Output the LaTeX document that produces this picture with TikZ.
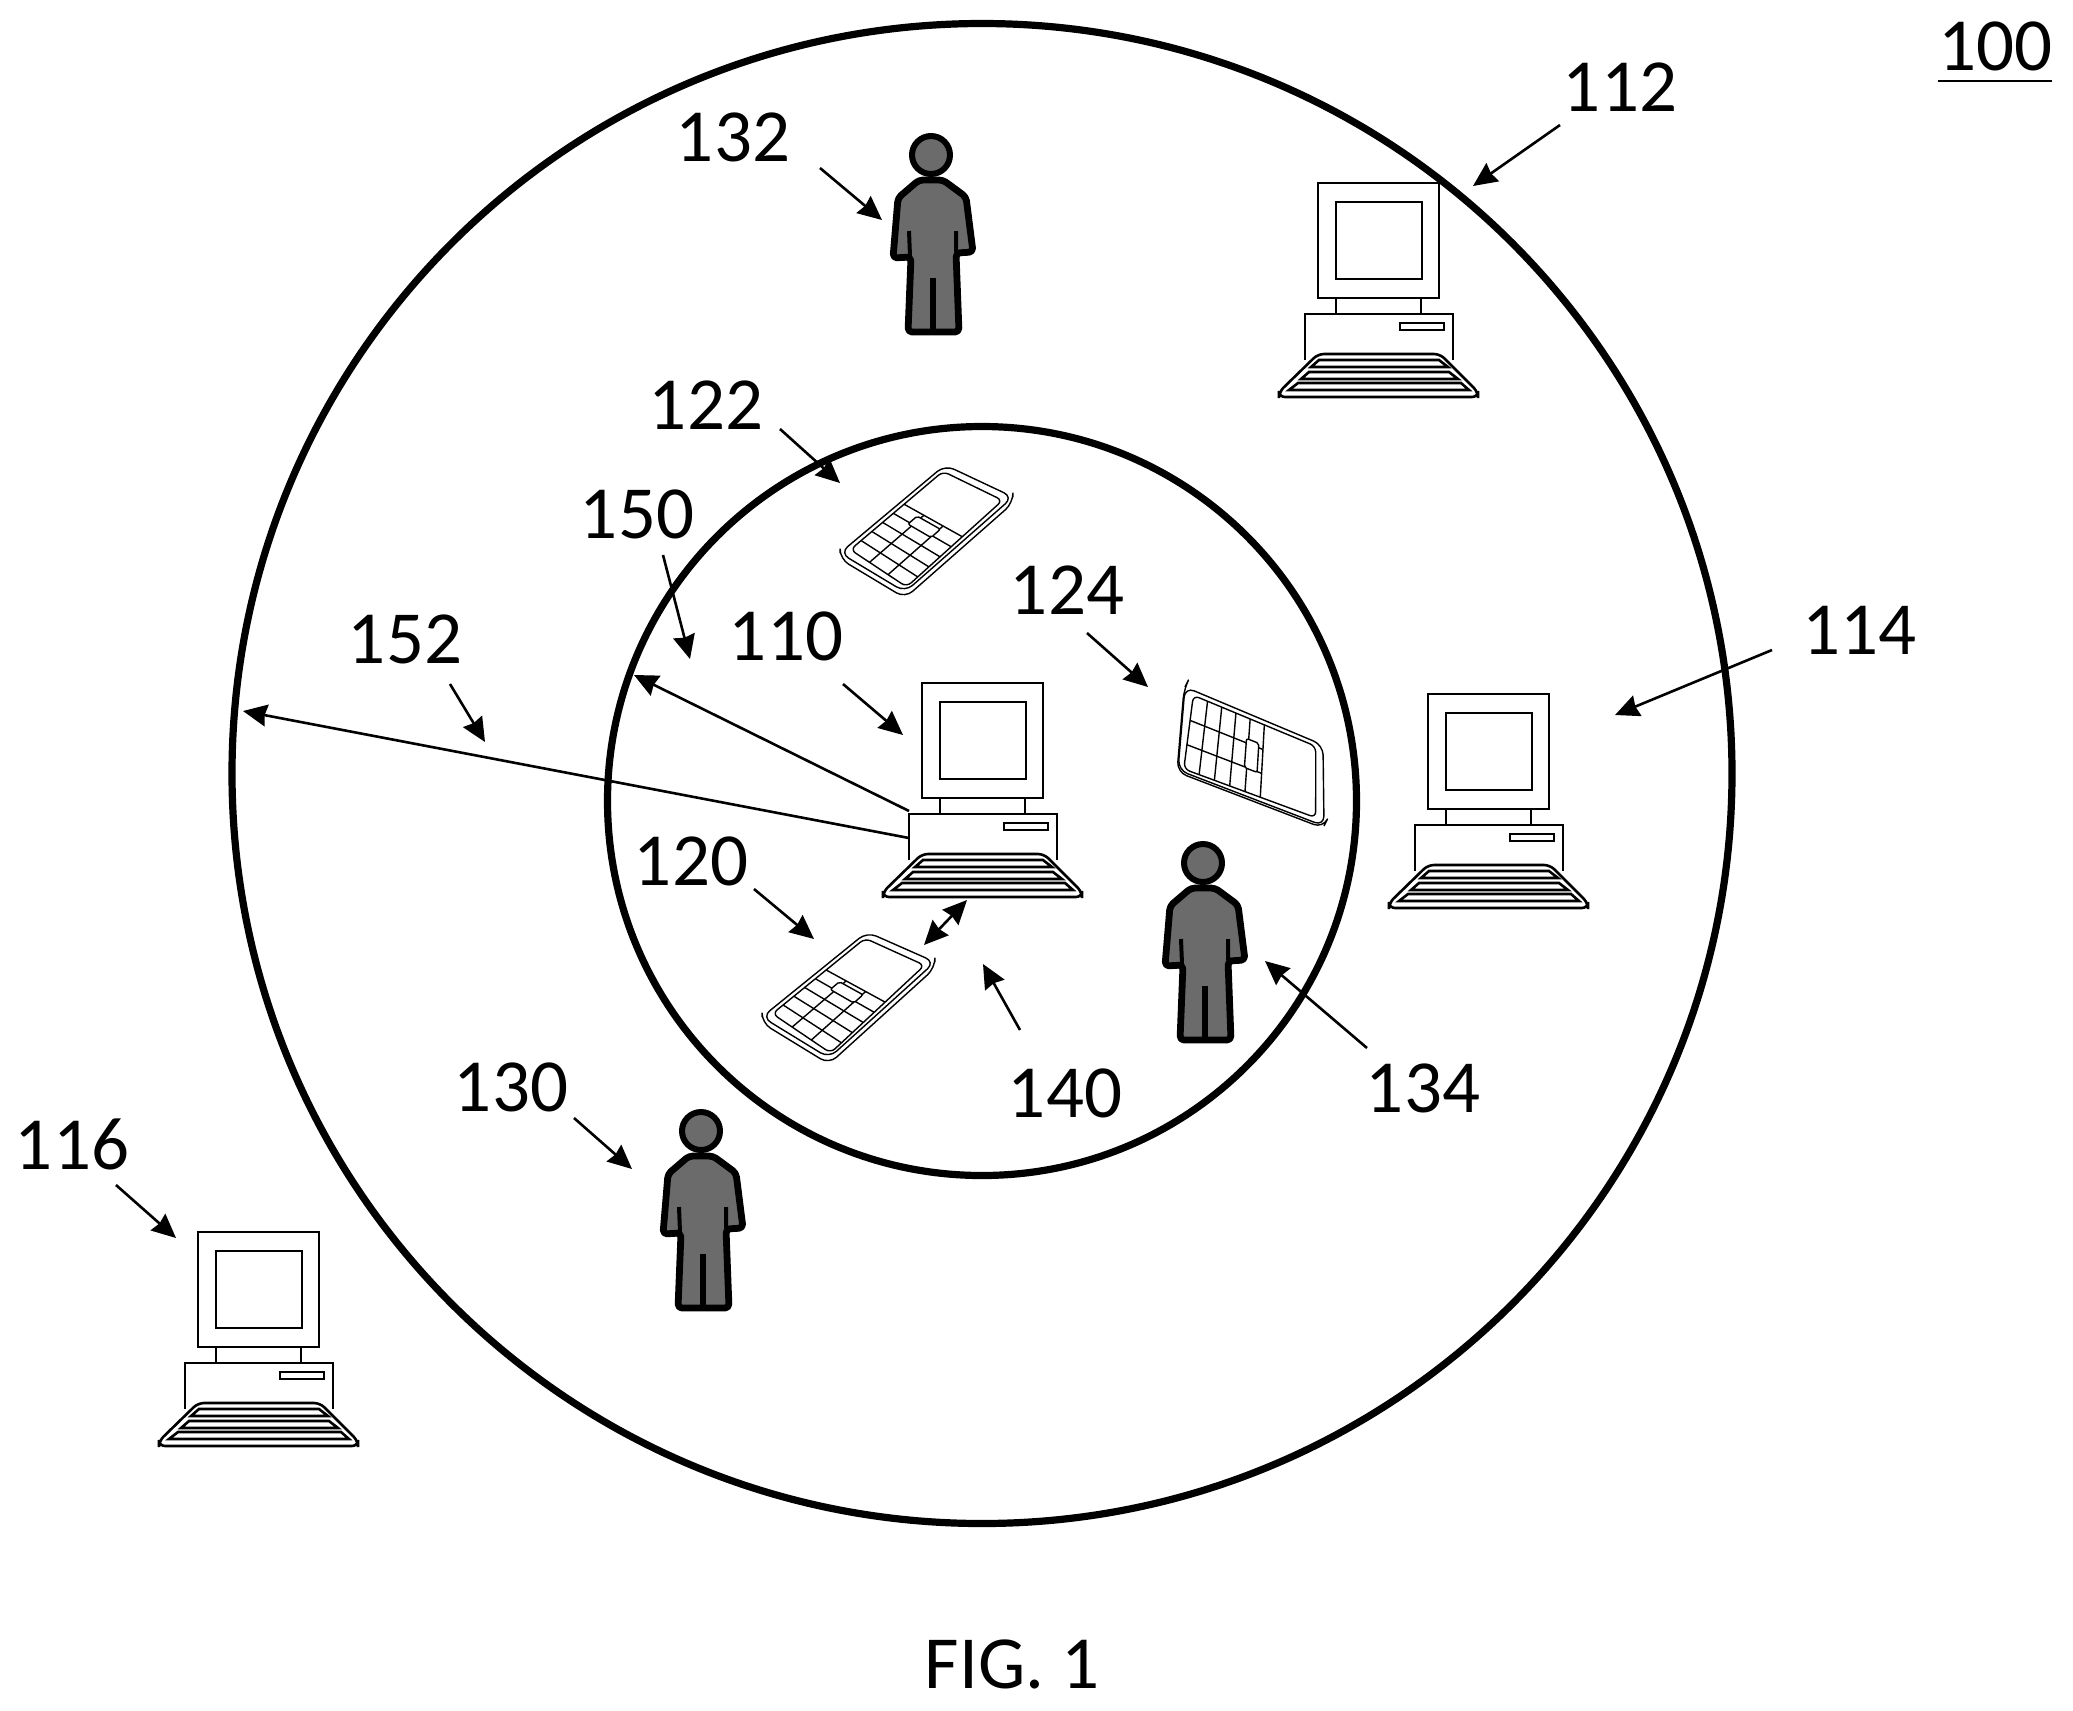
\documentclass[tikz,border=0pt]{standalone}
\usepackage{fontspec}
\setmainfont{Carlito}
\usetikzlibrary{calc,arrows.meta}

% face corners left, top, right, bottom, then the drop of the lower edge
\newcommand{\phonepic}[5]{
    \coordinate (L) at #1;
    \coordinate (T) at #2;
    \coordinate (R) at #3;
    \coordinate (B) at #4;
    \coordinate (iL) at ($(L)!.06!(R)$);
    \coordinate (iT) at ($(T)!.05!(B)$);
    \coordinate (iR) at ($(R)!.06!(L)$);
    \coordinate (iB) at ($(B)!.04!(T)$);
    \coordinate (sL) at ($(iL)!.58!(iT)$);
    \coordinate (sB) at ($(iB)!.58!(iR)$);
    \draw[phone,rounded corners=5pt] (L) -- (T) -- (R) -- (B) -- cycle;
    \draw[phone,rounded corners=5pt] (L) -- ($(L)+#5$) -- ($(B)+#5$) -- ($(R)+#5$) -- (R);
    \draw[phone,rounded corners=3pt] (iL) -- (iT) -- (iR) -- (iB) -- cycle;
    \draw[phone] (sL) -- (sB);
    \foreach \u in {.2,.4,.6,.8}
        \draw[phone] ($(iL)!\u!(sL)$) -- ($(iB)!\u!(sB)$);
    \foreach \v in {.34,.67}
        \draw[phone] ($(iL)!\v!(iB)$) -- ($(sL)!\v!(sB)$);
    \draw[phone,fill=white,rounded corners=1pt]
        ($($(iL)!.77!(sL)$)!.28!($(iB)!.77!(sB)$)$) -- ($($(iL)!.94!(sL)$)!.28!($(iB)!.94!(sB)$)$)
        -- ($($(iL)!.94!(sL)$)!.68!($(iB)!.94!(sB)$)$) -- ($($(iL)!.77!(sL)$)!.68!($(iB)!.77!(sB)$)$) -- cycle;
}

\begin{document}
\begin{tikzpicture}[x=.5pt,y=-.5pt,
        ring/.style={line width=3.6pt},
        link/.style={line width=1.3pt,-{Stealth[length=12pt,width=11pt,inset=1pt]}},
        both/.style={line width=1.3pt,{Stealth[length=12pt,width=11pt,inset=1pt]}-{Stealth[length=12pt,width=11pt,inset=1pt]}},
        ref/.style={font=\fontsize{37.5}{40}\selectfont},
        phone/.style={line width=.7pt,line join=round},
        pc/.style={line width=1.3pt},
        computer/.pic={
            \draw[pc] (18,115) -- (18,131) (103,115) -- (103,131);
            \draw[pc] (0,0) rectangle (121,115);
            \draw[pc] (18,19) rectangle (104,96);
            \draw[pc] (-13,177) -- (-13,131) -- (135,131) -- (135,177);
            \draw[pc] (82,140) rectangle (126,147);
            \draw[pc,fill=white,rounded corners=3pt] (0,171) -- (122,171) -- (160,209) -- (160,214) -- (-39,214) -- (-39,209) -- cycle;
            \draw[pc] (1,177) -- (121,177) -- (130,184) -- (-7,184) -- cycle;
            \draw[pc] (-9,189) -- (131,189) -- (140,196) -- (-17,196) -- cycle;
            \draw[pc] (-20,200) -- (143,200) -- (151,207) -- (-29,207) -- cycle;
            \coordinate (-corner) at (-13,128);
            \coordinate (-side) at (-13,155);
        },
        person/.pic={
            \draw[line width=3pt,fill=black!58,line join=round] (0,0) circle (19);
            \draw[line width=3.4pt,fill=black!58,line join=round,rounded corners=2pt] (-12,25) -- (-33,43) -- (-38,103) -- (-20,102) -- (-23,177)
                -- (28,177) -- (25,98) -- (42,97) -- (35,42) -- (12,25) -- cycle;
            \draw[line width=3pt] (2,123) -- (2,175);
            \draw[line width=2pt] (-22,76) -- (-21,101) (25,76) -- (25,97);
        }]
    \useasboundingbox (0,0) rectangle (2073,1710);

    \coordinate (outer) at (982,773.5);
    \coordinate (inner) at (982,801);
    \draw[ring] (outer) circle (750);
    \draw[ring] (inner) circle (374.5);

    \pic (c110) at (922,683) {computer};
    \pic (c112) at (1318,183) {computer};
    \pic (c114) at (1428,694) {computer};
    \pic (c116) at (198,1232) {computer};

    \pic (u132) at (931,155) {person};
    \pic (u130) at (701,1131) {person};
    \pic (u134) at (1203,863) {person};

    \phonepic{(762,1017)}{(867,932)}{(935,962)}{(829,1058)}{(0,6)}
    \phonepic{(840,553)}{(945,465)}{(1013,497)}{(905,592)}{(0,6)}
    \phonepic{(1185,687)}{(1323,745)}{(1324,826)}{(1178,770)}{(-1,2)}

    \node[ref,inner sep=0pt] (l100) at (1995,46) {100};
    \draw[pc] ($(l100.south west)+(0,10)$) -- ($(l100.south east)+(0,10)$);
    \node[ref] (l112) at (1620,87) {112};
    \node[ref] (l132) at (733,137) {132};
    \node[ref] (l122) at (706,405) {122};
    \node[ref] (l150) at (637,514) {150};
    \node[ref] (l124) at (1067,590) {124};
    \node[ref] (l110) at (786,636) {110};
    \node[ref] (l152) at (405,639) {152};
    \node[ref] (l114) at (1859,630) {114};
    \node[ref] (l120) at (691,861) {120};
    \node[ref] (l130) at (511,1087) {130};
    \node[ref] (l140) at (1065,1093) {140};
    \node[ref] (l134) at (1423,1088) {134};
    \node[ref] (l116) at (72,1144) {116};
    \node[ref] (fig) at (1012,1664) {FIG. 1};

    \coordinate (a132) at (820,168);
    \coordinate (b132) at (882,220);
    \coordinate (a112) at (1560,125);
    \coordinate (b112) at (1473,186);
    \coordinate (a122) at (780,429);
    \coordinate (b122) at (840,483);
    \coordinate (a150) at (663,555);
    \coordinate (b150) at (690,659);
    \coordinate (a110) at (843,684);
    \coordinate (b110) at (903,735);
    \coordinate (a124) at (1087,633);
    \coordinate (b124) at (1148,687);
    \coordinate (a114) at (1772,650);
    \coordinate (b114) at (1615,715);
    \coordinate (a152) at (450,684);
    \coordinate (b152) at (485,742);
    \coordinate (a120) at (754,889);
    \coordinate (b120) at (814,939);
    \coordinate (a134) at (1367,1048);
    \coordinate (b134) at (1265,961);
    \coordinate (a140) at (1020,1030);
    \coordinate (b140) at (983,964);
    \coordinate (a130) at (574,1118);
    \coordinate (b130) at (632,1169);
    \coordinate (a116) at (116,1185);
    \coordinate (b116) at (176,1238);
    \draw[link] (a132) -- (b132);
    \draw[link] (a112) -- (b112);
    \draw[link] (a122) -- (b122);
    \draw[link] (a150) -- (b150);
    \draw[link] (a110) -- (b110);
    \draw[link] (a124) -- (b124);
    \draw[link] (a114) -- (b114);
    \draw[link] (a152) -- (b152);
    \draw[link] (a120) -- (b120);
    \draw[link] (a134) -- (b134);
    \draw[link] (a140) -- (b140);
    \draw[link] (a130) -- (b130);
    \draw[link] (a116) -- (b116);

    \coordinate (r150) at (634,675);
    \coordinate (r152) at (243,711);
    \draw[link] (c110-corner) -- (r150);
    \draw[link] (c110-side) -- (r152);

    \coordinate (d1) at (924,945);
    \coordinate (d2) at (967,900);
    \draw[both] (d1) -- (d2);
\end{tikzpicture}
\end{document}
